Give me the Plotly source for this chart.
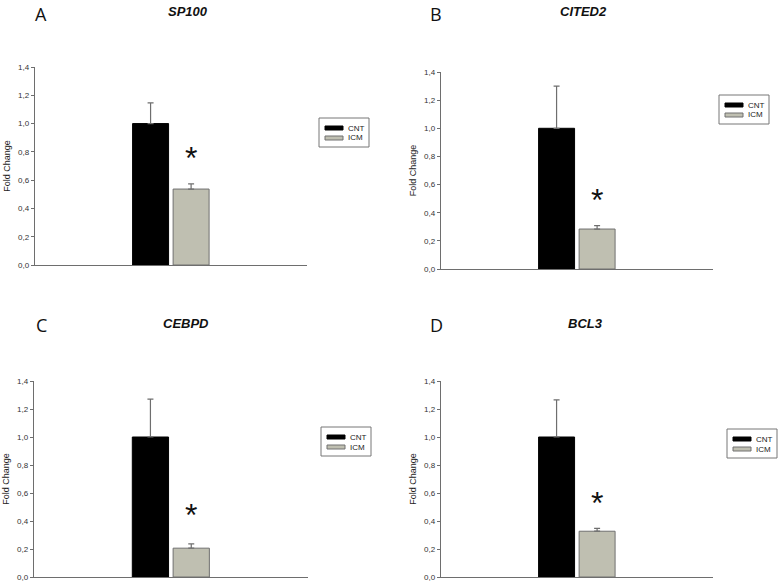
import plotly.graph_objects as go

# ---- data ----
panels = ["A", "B", "C", "D"]
genes = ["SP100", "CITED2", "CEBPD", "BCL3"]
groups = ["CNT", "ICM"]
cnt_mean = [1.0, 1.0, 1.0, 1.0]
cnt_err = [0.147, 0.30, 0.27, 0.265]
icm_mean = [0.537, 0.284, 0.206, 0.327]
icm_err = [0.036, 0.024, 0.03, 0.021]
star_y = [0.785, 0.52, 0.47, 0.56]
y_ticks = [0.0, 0.2, 0.4, 0.6, 0.8, 1.0, 1.2, 1.4]

# ---- layout geometry (pixels -> paper fractions) ----
W, H = 778, 584
x_dom = [[35 / W, 307 / W], [441 / W, 713 / W], [34 / W, 308 / W], [441 / W, 713 / W]]
y_dom = [[1 - 265 / H, 1 - 67 / H], [1 - 269 / H, 1 - 72 / H],
         [1 - 577 / H, 1 - 381 / H], [1 - 577 / H, 1 - 381 / H]]
legend_px = [(319, 118), (719, 95), (321, 427), (727, 429)]
title_px = [(188, 12), (583, 12), (186, 323), (585, 323)]
letter_px = [(41, 0), (436, 0), (41, 311), (436, 311)]

FONT = "Liberation Sans, Arial, sans-serif"
CNT_COLOR = "#000000"
ICM_COLOR = "#bfbfb1"
ICM_LINE = "#707070"
AX_COLOR = "#6e6e6e"
colors = [CNT_COLOR, ICM_COLOR]
line_colors = ["#000000", ICM_LINE]


def px_x(p):
    return p / W


def px_y(p):
    return 1 - p / H


fig = go.Figure()
layout = dict(
    width=W, height=H, margin=dict(l=0, r=0, t=0, b=0),
    paper_bgcolor="white", plot_bgcolor="white",
    separators=",.", barmode="overlay", showlegend=False,
    font=dict(family=FONT, color="#222"),
)
annotations = []
shapes = []
x_range = [-2.852, 3.86]
bar_w = 0.888

for i in range(4):
    sfx = "" if i == 0 else str(i + 1)
    xa, ya = "x" + sfx, "y" + sfx
    means = [cnt_mean[i], icm_mean[i]]
    errs = [cnt_err[i], icm_err[i]]
    for g in range(2):
        fig.add_trace(go.Bar(
            x=[groups[g]], y=[means[g]], width=bar_w, name=groups[g],
            marker=dict(color=colors[g], line=dict(color=line_colors[g], width=1)),
            error_y=dict(type="data", array=[errs[g]], arrayminus=[0], symmetric=False,
                         color=AX_COLOR, thickness=1.2, width=3),
            xaxis=xa, yaxis=ya, hoverinfo="skip"))

    layout["xaxis" + sfx] = dict(
        domain=x_dom[i], anchor=ya, type="category", categoryorder="array",
        categoryarray=groups, range=x_range, showticklabels=False, ticks="",
        showgrid=False, zeroline=False, showline=True, linecolor=AX_COLOR,
        linewidth=1.3, automargin=False, fixedrange=True)
    layout["yaxis" + sfx] = dict(
        domain=y_dom[i], anchor=xa, range=[0, 1.4], tickvals=y_ticks,
        tickformat=".1f", ticks="outside", ticklen=3, tickcolor=AX_COLOR,
        tickfont=dict(size=8, color="#333", family=FONT),
        showgrid=False, zeroline=False, showline=True, linecolor=AX_COLOR,
        linewidth=1.3, automargin=False, fixedrange=True,
        title=dict(text="Fold Change", font=dict(size=9, color="#222", family=FONT),
                   standoff=5))

    # legend box (drawn in paper space)
    bx, by = legend_px[i]
    shapes.append(dict(type="rect", xref="paper", yref="paper",
                       x0=px_x(bx), x1=px_x(bx + 50), y0=px_y(by), y1=px_y(by + 29),
                       line=dict(color="#777", width=1), fillcolor="white"))
    for g in range(2):
        sy = by + 8 + 10 * g
        shapes.append(dict(type="rect", xref="paper", yref="paper",
                           x0=px_x(bx + 6), x1=px_x(bx + 24), y0=px_y(sy), y1=px_y(sy + 4),
                           line=dict(color=line_colors[g], width=1), fillcolor=colors[g]))
        annotations.append(dict(
            x=px_x(bx + 27), y=px_y(sy + 2), xref="paper", yref="paper",
            text=groups[g], showarrow=False, xanchor="left", yanchor="middle",
            font=dict(size=8, color="#222", family=FONT)))

    annotations.append(dict(
        x=groups[1], y=star_y[i], xref=xa, yref=ya, text="*", showarrow=False,
        font=dict(size=32, color="#111", family=FONT), yanchor="middle", yshift=-4))
    tx, ty = title_px[i]
    annotations.append(dict(
        x=px_x(tx), y=px_y(ty), xref="paper", yref="paper",
        text="<b><i>" + genes[i] + "</i></b>", showarrow=False,
        font=dict(size=13, color="#111", family=FONT), xanchor="center", yanchor="middle"))
    lx, ly = letter_px[i]
    annotations.append(dict(
        x=px_x(lx), y=px_y(ly), xref="paper", yref="paper", text=panels[i],
        showarrow=False, font=dict(size=18, color="#111", family="Open Sans, sans-serif"),
        xanchor="center", yanchor="top"))

layout["annotations"] = annotations
layout["shapes"] = shapes
fig.update_layout(**layout)
fig.write_html(
    "out.html",
    config={"displayModeBar": False, "staticPlot": True},
    post_script="document.body.style.margin='0px';document.body.style.overflow='hidden';",
)
